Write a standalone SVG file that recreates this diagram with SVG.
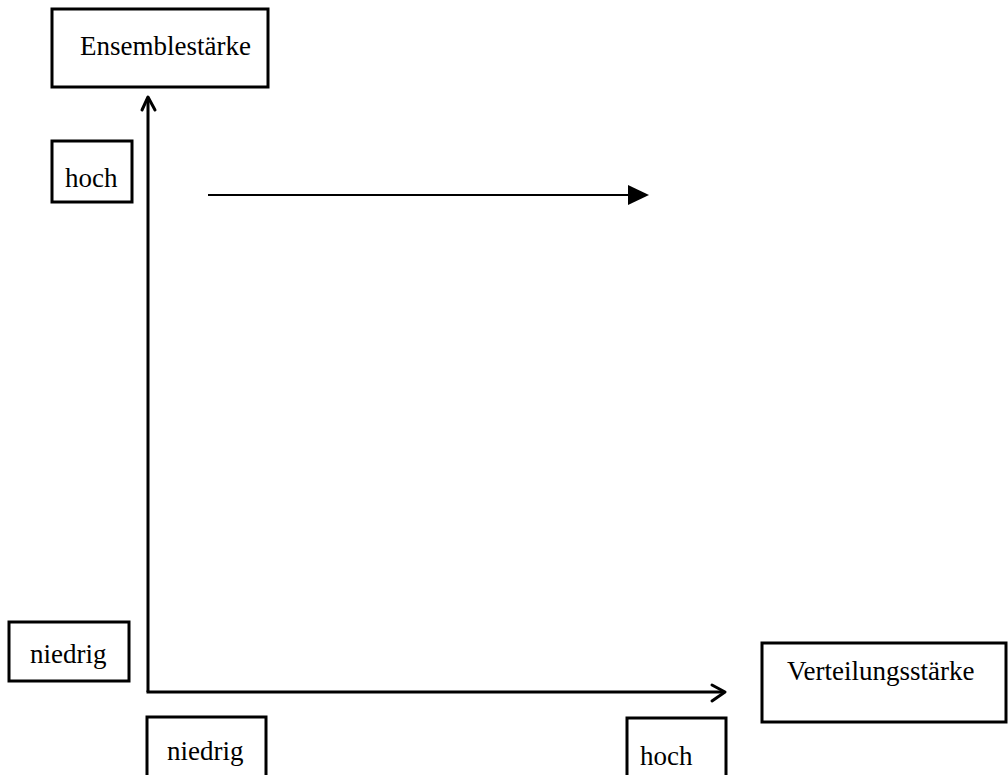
<svg xmlns="http://www.w3.org/2000/svg" width="1008" height="775" viewBox="0 0 1008 775">
<style>
.box{fill:#fff;stroke:#000;stroke-width:3}
.lbl{font-family:"Liberation Serif","Times New Roman",serif;font-size:27px;fill:#000}
.ax{fill:none;stroke:#000;stroke-width:3}
.arm{fill:none;stroke:#000;stroke-width:3;stroke-linecap:round;stroke-linejoin:round}
</style>
<rect width="1008" height="775" fill="#fff"/>
<g id="connectors">
<line class="ax" x1="148" y1="98" x2="148" y2="692"/>
<polyline class="arm" points="142,110 148,97 155,110"/>
<line class="ax" x1="146.5" y1="692" x2="724" y2="692"/>
<polyline class="arm" points="712,685 725,692 712,701"/>
<line x1="208" y1="195" x2="632" y2="195" stroke="#000" stroke-width="2"/>
<polygon points="628,185 649,195 628,205" fill="#000"/>
</g>
<g id="ensemblestaerke">
<rect class="box" x="52" y="9" width="216" height="78"/>
<text class="lbl" x="80" y="55">Ensemblestärke</text>
</g>
<g id="hoch-y">
<rect class="box" x="52" y="141" width="80" height="61"/>
<text class="lbl" x="65" y="187">hoch</text>
</g>
<g id="niedrig-y">
<rect class="box" x="9" y="622" width="120" height="59"/>
<text class="lbl" x="30" y="663">niedrig</text>
</g>
<g id="niedrig-x">
<rect class="box" x="147" y="717" width="119" height="70"/>
<text class="lbl" x="167" y="760">niedrig</text>
</g>
<g id="hoch-x">
<rect class="box" x="627" y="718" width="99" height="70"/>
<text class="lbl" x="640" y="765">hoch</text>
</g>
<g id="verteilungsstaerke">
<rect class="box" x="762" y="643" width="244" height="79"/>
<text class="lbl" x="787" y="680">Verteilungsstärke</text>
</g>
</svg>
